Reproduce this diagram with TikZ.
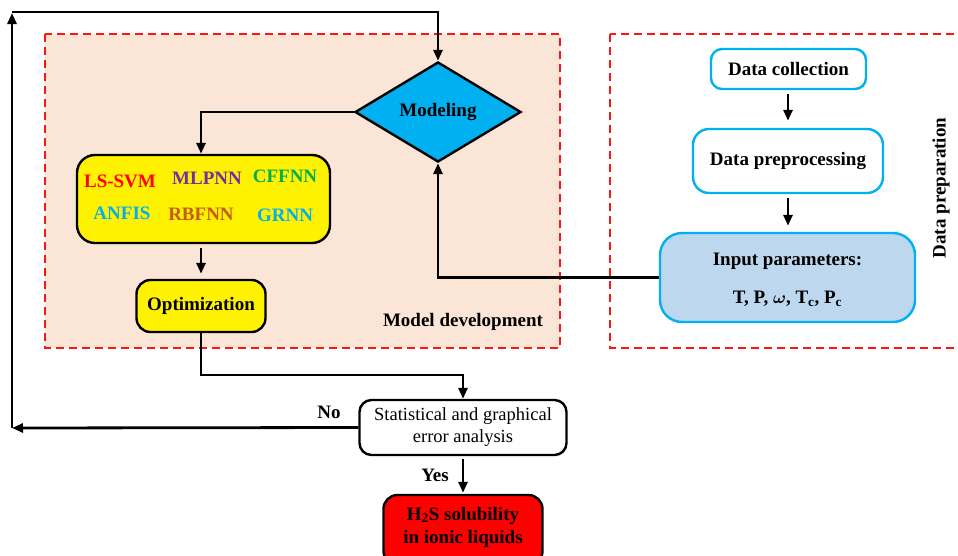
\documentclass[tikz,border=0pt]{standalone}
\usepackage{fontspec}
\setmainfont{Liberation Serif}
\usetikzlibrary{shapes.geometric,arrows.meta}
\definecolor{peach}{RGB}{251,229,214}
\definecolor{dashred}{RGB}{255,20,20}
\definecolor{diacyan}{RGB}{0,176,240}
\definecolor{boxcyan}{RGB}{0,176,240}
\definecolor{inblue}{RGB}{189,215,238}
\definecolor{mpurple}{RGB}{112,48,160}
\definecolor{mgreen}{RGB}{0,176,80}
\definecolor{mcyan}{RGB}{0,176,240}
\definecolor{mbrown}{RGB}{197,90,17}
\tikzset{
  regionbox/.style={draw=dashred, line width=2pt, dash pattern=on 8pt off 5pt},
  flowbox/.style={draw, line width=2.4pt, rounded corners=14pt, align=center, inner sep=0pt,
    font=\fontsize{19}{22}\selectfont\bfseries},
  databox/.style={flowbox, draw=boxcyan},
  conn/.style={line width=2.8pt, -{Triangle[length=11pt,width=9pt]}},
  lbl/.style={font=\fontsize{19}{22}\selectfont\bfseries, inner sep=0pt},
  meth/.style={font=\fontsize{19}{22}\selectfont\bfseries, inner sep=0pt}
}
\begin{document}
\begin{tikzpicture}[x=1pt,y=-1pt]
\useasboundingbox (0,0) rectangle (958,555);
\clip (0,0) rectangle (958,555);
% region boxes
\draw[regionbox, fill=peach] (45,34) rectangle (560,348);
\draw[regionbox] (610,34) rectangle (975,348);
\node[lbl] (mdlabel) at (463,322) {Model development};
\node[lbl, rotate=90] (dplabel) at (941,188) {Data preparation};
% nodes
\node[diamond, draw, line width=2.4pt, fill=diacyan, minimum width=166pt, minimum height=100pt, inner sep=0pt,
  font=\fontsize{19}{22}\selectfont\bfseries] (model) at (438,112) {Modeling};
\node[flowbox, fill=yellow, minimum width=253pt, minimum height=88pt, rounded corners=18pt] (methods) at (203.5,199) {};
\node[meth, text=red] (lssvm) at (120,181) {LS-SVM};
\node[meth, text=mpurple] (mlpnn) at (207,178) {MLPNN};
\node[meth, text=mgreen] (cffnn) at (285,176) {CFFNN};
\node[meth, text=mcyan] (anfis) at (122,213) {ANFIS};
\node[meth, text=mbrown] (rbfnn) at (201,214) {RBFNN};
\node[meth, text=mcyan] (grnn) at (285,215) {GRNN};
\node[flowbox, fill=yellow, minimum width=129pt, minimum height=52pt] (opt) at (201,306) {Optimization};
\node[databox, fill=white, minimum width=155pt, minimum height=40pt, rounded corners=11pt] (collect) at (788.5,69) {Data collection};
\node[databox, fill=white, minimum width=190pt, minimum height=64pt, rounded corners=16pt] (preproc) at (788,161) {Data preprocessing};
\node[databox, fill=inblue, minimum width=255pt, minimum height=89pt, rounded corners=22pt] (input) at (787.5,277.5) {};
\node[lbl, align=center, font=\fontsize{19}{38}\selectfont\bfseries] (intext) at (787.5,280) {Input parameters:\\T, P, {\boldmath$\omega$}, T\textsubscript{c}, P\textsubscript{c}};
\node[flowbox, fill=white, minimum width=207pt, minimum height=55pt, rounded corners=12pt,
  font=\fontsize{18.5}{22}\selectfont] (stat) at (463,427.5) {Statistical and graphical\\error analysis};
\node[flowbox, fill=red, minimum width=159pt, minimum height=70pt, rounded corners=14pt] (result) at (463,530) {};
\node[lbl, align=center, font=\fontsize{19}{23}\selectfont\bfseries] (restext) at (463,527) {H\textsubscript{2}S solubility\\in ionic liquids};
\node[lbl] (no) at (329,412) {No};
\node[lbl] (yes) at (435,475) {Yes};
% coordinates
\coordinate (lb) at (12,428);
\coordinate (lt) at (12,12);
\coordinate (lt2) at (12,13);
\coordinate (optturn) at (201,375);
\coordinate (dpx) at (788,0);
% connectors
\draw[conn] (model.west) -| (methods.north -| opt.north);
\draw[conn, shorten <=4pt, shorten >=5pt] (opt.north |- methods.south) -- (opt.north);
\draw[conn] (opt.south) |- (optturn -| stat.north) -- (stat.north);
\draw[conn, shorten <=3pt, shorten >=1pt] (stat.south) -- (result.north);
\draw[conn] (stat.west) -- (lb);
\draw[conn] (lb) -- (lt2);
\draw[conn] (lt) -| (model.north);
\draw[conn] (input.west) -| (model.south);
\draw[conn, shorten <=4pt, shorten >=7pt] (dpx |- collect.south) -- (dpx |- preproc.north);
\draw[conn, shorten <=4pt, shorten >=6pt] (dpx |- preproc.south) -- (dpx |- input.north);
\end{tikzpicture}
\end{document}
